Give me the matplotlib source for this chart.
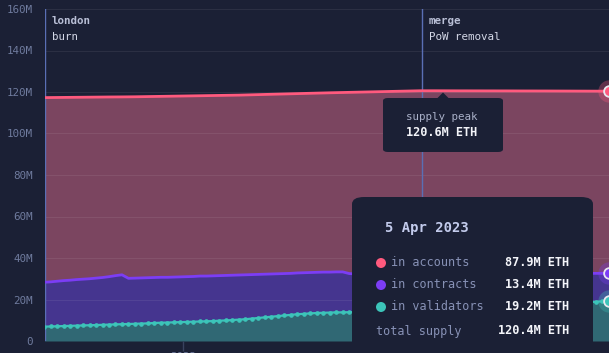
import numpy as np
import pandas as pd
import matplotlib
matplotlib.use("Agg")
import matplotlib.pyplot as plt
from matplotlib.patches import FancyBboxPatch, Polygon, Ellipse

# weekly points, London fork -> 5 Apr 2023 (millions of ETH)
dates = pd.date_range(end="2023-04-05", periods=88, freq="7D")

total_supply = [
    117.30, 117.33, 117.36, 117.39, 117.42, 117.45, 117.48, 117.51, 117.54, 117.57,
    117.60, 117.62, 117.64, 117.67, 117.70, 117.75, 117.80, 117.85, 117.90, 117.95,
    118.00, 118.05, 118.10, 118.15, 118.20, 118.25, 118.30, 118.35, 118.40, 118.45,
    118.50, 118.58, 118.66, 118.74, 118.82, 118.90, 118.98, 119.06, 119.14, 119.22,
    119.30, 119.38, 119.46, 119.54, 119.62, 119.69, 119.76, 119.83, 119.90, 119.97,
    120.04, 120.11, 120.18, 120.25, 120.32, 120.39, 120.46, 120.53, 120.60, 120.60,
    120.60, 120.59, 120.58, 120.57, 120.56, 120.56, 120.55, 120.55, 120.54, 120.54,
    120.53, 120.53, 120.52, 120.51, 120.50, 120.50, 120.49, 120.49, 120.48, 120.47,
    120.46, 120.45, 120.44, 120.43, 120.42, 120.41, 120.41, 120.40,
]
in_contracts = [
    21.4, 21.5, 21.7, 21.9, 22.0, 22.2, 22.3, 22.4, 22.6, 22.8,
    23.1, 23.5, 23.8, 22.0, 22.0, 22.0, 22.0, 21.9, 21.9, 21.8,
    21.8, 21.8, 21.8, 21.8, 21.9, 21.8, 21.8, 21.7, 21.7, 21.6,
    21.5, 21.4, 21.2, 21.0, 20.8, 20.6, 20.4, 20.2, 20.0, 19.9,
    19.8, 19.7, 19.6, 19.6, 19.5, 19.5, 19.5, 18.6, 18.4, 18.4,
    18.3, 18.2, 18.0, 17.9, 17.7, 17.6, 17.5, 17.4, 17.3, 17.1,
    17.0, 16.9, 16.7, 16.6, 16.5, 16.3, 16.2, 16.0, 15.9, 15.8,
    15.6, 15.5, 15.5, 15.3, 15.2, 15.1, 14.9, 14.8, 14.7, 14.5,
    14.4, 14.2, 14.1, 14.0, 13.8, 13.7, 13.5, 13.4,
]
in_validators = [
    6.9, 7.0, 7.1, 7.2, 7.3, 7.4, 7.5, 7.6, 7.7, 7.8,
    7.9, 8.0, 8.1, 8.2, 8.3, 8.4, 8.5, 8.7, 8.8, 8.9,
    9.0, 9.1, 9.2, 9.3, 9.4, 9.5, 9.6, 9.8, 9.9, 10.1,
    10.3, 10.5, 10.8, 11.1, 11.4, 11.7, 12.0, 12.3, 12.6, 12.9,
    13.1, 13.3, 13.5, 13.6, 13.7, 13.8, 13.8, 13.9, 13.9, 14.0,
    14.1, 14.2, 14.4, 14.5, 14.7, 14.8, 15.0, 15.1, 15.2, 15.4,
    15.5, 15.6, 15.8, 15.9, 16.0, 16.2, 16.3, 16.5, 16.6, 16.7,
    16.9, 17.0, 17.1, 17.3, 17.4, 17.5, 17.7, 17.8, 17.9, 18.1,
    18.2, 18.4, 18.5, 18.6, 18.8, 18.9, 19.1, 19.2,
]

events = [("london", "burn", "2021-08-05"), ("merge", "PoW removal", "2022-09-15")]
y_ticks = [0, 20, 40, 60, 80, 100, 120, 140, 160]
y_labels = ["0", "20M", "40M", "60M", "80M", "100M", "120M", "140M", "160M"]

legend_rows = [("in accounts", "87.9M ETH", "#ff5a7e"),
               ("in contracts", "13.4M ETH", "#7c3df5"),
               ("in validators", "19.2M ETH", "#3cc4b9")]

BG = "#1b2035"
FONT = "DejaVu Sans Mono"
W, H = 609, 353

val = np.array(in_validators)
mid = val + np.array(in_contracts)
top = np.array(total_supply)

fig = plt.figure(figsize=(W / 100, H / 100), dpi=100, facecolor=BG)
ax = fig.add_axes([45 / W, 12 / H, (W - 45) / W + 0.003, 332 / H])
ax.set_facecolor(BG)

def px(x, y):
    return x / W, 1 - y / H

ax.fill_between(dates, 0, val, color="#306874", lw=0, zorder=1)
ax.fill_between(dates, val, mid, color="#45358f", lw=0, zorder=1)
ax.fill_between(dates, mid, top, color="#7b4560", lw=0, zorder=1)

for yv in y_ticks:
    ax.axhline(yv, color="white", alpha=0.07, lw=0.8, zorder=2)

for name, desc, d in events:
    ax.axvline(pd.Timestamp(d), color="#5a6fb5", lw=1, zorder=3)

ax.plot(dates, top, color="#ff5a7e", lw=2, zorder=4)
ax.plot(dates, mid, color="#7c3df5", lw=2, zorder=4)
ax.plot(dates, val, color="#3cc4b9", lw=1.6, marker="o", ms=2.3, zorder=4)

# end markers
for yv, c in [(top[-1], "#ff5a7e"), (mid[-1], "#7c3df5"), (val[-1], "#3cc4b9")]:
    ax.scatter([dates[-1]], [yv], s=260, color=c, alpha=0.3, lw=0, zorder=5, clip_on=False)
    ax.scatter([dates[-1]], [yv], s=60, color=c, edgecolors="#e8e8f0", lw=1.3, zorder=6, clip_on=False)

ax.set_xlim(pd.Timestamp("2021-08-05"), pd.Timestamp("2023-04-07"))
ax.set_ylim(0, 160)
ax.set_yticks(y_ticks)
ax.set_yticklabels(y_labels)
ax.set_xticks([pd.Timestamp("2022-01-01")])
ax.set_xticklabels(["2022"])
ax.tick_params(axis="y", length=0, pad=9, labelcolor="#6f7b9e", labelsize=7.8)
ax.tick_params(axis="x", length=7, width=1, color="#39425e", pad=1,
               labelcolor="#6f7b9e", labelsize=7.8)
for lab in ax.get_xticklabels() + ax.get_yticklabels():
    lab.set_fontfamily(FONT)
for s in ax.spines.values():
    s.set_visible(False)

# event labels
for (name, desc, d), x0 in zip(events, [52, 429]):
    fig.text(*px(x0, 21), name, fontfamily=FONT, fontweight="bold", fontsize=7.8,
             color="#b9bfd6", va="center", ha="left")
    fig.text(*px(x0, 37), desc, fontfamily=FONT, fontsize=7.8,
             color="#d3d7e6", va="center", ha="left")

# supply peak tooltip
x0, y0 = px(383, 152)
x1, y1 = px(503, 98)
fig.patches.append(FancyBboxPatch((x0, y0), x1 - x0, y1 - y0,
                                  boxstyle="round,pad=0,rounding_size=0.008",
                                  transform=fig.transFigure, fc=BG, ec="none", zorder=10))
fig.patches.append(Polygon([px(437, 98.5), px(443, 92.5), px(449, 98.5)], closed=True,
                           transform=fig.transFigure, fc=BG, ec="none", zorder=10))
fig.text(*px(406, 117), "supply peak", fontfamily=FONT, fontsize=7.8,
         color="#a9b0c8", va="center", zorder=11)
fig.text(*px(406, 133), "120.6M ETH", fontfamily=FONT, fontsize=8.6, fontweight="bold",
         color="#f2f3f8", va="center", zorder=11)

# hover tooltip
x0, y0 = px(352, 365)
x1, y1 = px(593, 197)
fig.patches.append(FancyBboxPatch((x0, y0), x1 - x0, y1 - y0,
                                  boxstyle="round,pad=0,rounding_size=0.02",
                                  transform=fig.transFigure, fc=BG, ec="none", zorder=10))
fig.text(*px(385, 228), "5 Apr 2023", fontfamily=FONT, fontsize=10, fontweight="bold",
         color="#c3cbec", va="center", zorder=11)
for i, (lab, v, c) in enumerate(legend_rows):
    yy = [263, 285, 307][i]
    fig.patches.append(Ellipse(px(381, yy), 10 / W, 10 / H, transform=fig.transFigure,
                               fc=c, ec="none", zorder=11))
    fig.text(*px(391, yy), lab, fontfamily=FONT, fontsize=8.5, color="#8791b5",
             va="center", zorder=11)
    fig.text(*px(569, yy), v, fontfamily=FONT, fontsize=8.6, fontweight="bold",
             color="#f4f5fa", va="center", ha="right", zorder=11)
fig.text(*px(376, 331), "total supply", fontfamily=FONT, fontsize=8.5, color="#8791b5",
         va="center", zorder=11)
fig.text(*px(569, 331), "120.4M ETH", fontfamily=FONT, fontsize=8.6, fontweight="bold",
         color="#f4f5fa", va="center", ha="right", zorder=11)

fig.savefig("out.png", dpi=100, facecolor=BG)
